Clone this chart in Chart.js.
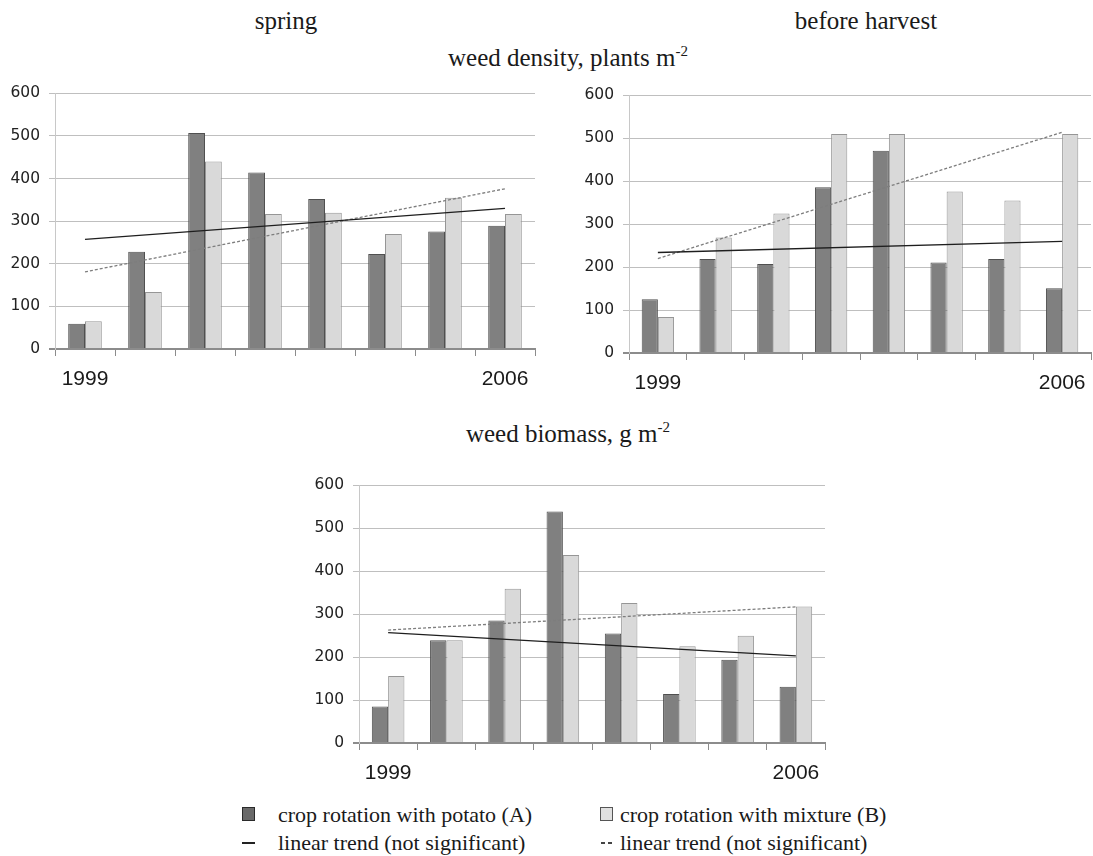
<!DOCTYPE html>
<html>
<head>
<meta charset="utf-8">
<script src="https://cdn.jsdelivr.net/npm/chart.js@4/dist/chart.umd.min.js"></script>
<style>
    body { margin: 0; background: #fff; width: 1093px; height: 856px; position: relative; overflow: hidden;
           font-family: "Liberation Serif", "Times New Roman", serif; color: #1a1a1a; }
    canvas { position: absolute; }
    .title { position: absolute; font-size: 25px; line-height: 1; white-space: nowrap; }
    .center { transform: translateX(-50%); }
    .title sup { font-size: 15px; vertical-align: 10px; line-height: 0; }
    .legend-item { position: absolute; font-size: 22px; line-height: 1; white-space: nowrap; }
    .swatch { position: absolute; width: 11px; height: 12px; }
    .dash { position: absolute; height: 0; border-top: 2px solid #222; }
</style>
</head>
<body>

<div class="title center" style="left:286px; top:8px;">spring</div>
<div class="title center" style="left:866px; top:8px;">before harvest</div>
<div class="title center" style="left:568px; top:45px;">weed density, plants m<sup>-2</sup></div>
<div class="title center" style="left:568px; top:421px;">weed biomass, g m<sup>-2</sup></div>

<canvas id="spring-chart" width="545" height="319" style="left:0px; top:75px;"></canvas>
<canvas id="harvest-chart" width="527" height="321" style="left:574px; top:77px;"></canvas>
<canvas id="biomass-chart" width="531" height="321" style="left:304px; top:467px;"></canvas>

<div class="swatch" style="left:242px; top:807px; background:#696969; border:1px solid #2a2a2a;"></div>
<div class="legend-item" style="left:278px; top:804px;">crop rotation with potato (A)</div>
<div class="swatch" style="left:600px; top:807px; background:#e0e0e0; border:1px solid #555;"></div>
<div class="legend-item" style="left:620px; top:804px;">crop rotation with mixture (B)</div>
<div class="dash" style="left:242px; top:842px; width:13px;"></div>
<div class="legend-item" style="left:278px; top:832px;">linear trend (not significant)</div>
<div class="dash" style="left:601px; top:842px; width:4px; border-color:#444;"></div>
<div class="dash" style="left:608px; top:842px; width:4px; border-color:#444;"></div>
<div class="legend-item" style="left:620px; top:832px;">linear trend (not significant)</div>

<script>
const years = ['1999', '', '', '', '', '', '', '2006'];
const yTicks = [0, 100, 200, 300, 400, 500, 600];

// weed density in spring, plants m-2
const springA = [59, 228, 507, 414, 352, 223, 276, 289];
const springB = [65, 134, 440, 317, 320, 270, 355, 317];
const springTrendA = [257, 330];   // first and last year
const springTrendB = [181, 376];

// weed density before harvest, plants m-2
const harvestA = [125, 219, 207, 386, 471, 211, 219, 151];
const harvestB = [84, 269, 325, 510, 510, 376, 355, 510];
const harvestTrendA = [234, 260];
const harvestTrendB = [220, 514];

// weed biomass, g m-2
const biomassA = [85, 239, 285, 539, 255, 114, 194, 131];
const biomassB = [156, 239, 359, 438, 326, 225, 250, 318];
const biomassTrendA = [257, 203];
const biomassTrendB = [263, 317];

// trend is only known at its two ends, the line spans the gap
function trendToSeries(ends) {
    const series = years.map(() => null);
    series[0] = ends[0];
    series[series.length - 1] = ends[1];
    return series;
}

function plotWeedChart(canvasId, valuesA, valuesB, trendA, trendB) {
    const ctx = document.getElementById(canvasId).getContext('2d');

    return new Chart(ctx, {
        type: 'bar',
        data: {
            labels: years,
            datasets: [{
                type: 'line',
                label: 'linear trend A',
                data: trendToSeries(trendA),
                borderColor: '#1e1e1e',
                borderWidth: 1.3,
                pointRadius: 0,
                spanGaps: true,
                order: 0,
            }, {
                type: 'line',
                label: 'linear trend B',
                data: trendToSeries(trendB),
                borderColor: '#7d7d7d',
                borderWidth: 1.3,
                borderDash: [3, 2],
                pointRadius: 0,
                spanGaps: true,
                order: 0,
            }, {
                label: 'crop rotation with potato (A)',
                data: valuesA,
                backgroundColor: '#808080',
                borderColor: '#505050',
                borderWidth: 1,
                barPercentage: 1,
                categoryPercentage: 0.56,
                order: 1,
            }, {
                label: 'crop rotation with mixture (B)',
                data: valuesB,
                backgroundColor: '#d9d9d9',
                borderColor: '#969696',
                borderWidth: 1,
                barPercentage: 1,
                categoryPercentage: 0.56,
                order: 1,
            }]
        },
        options: {
            animation: false,
            responsive: false,
            layout: { padding: { top: 10, right: 10, bottom: 0, left: 0 } },
            plugins: {
                legend: { display: false },
                tooltip: { enabled: false }
            },
            scales: {
                x: {
                    offset: true,
                    grid: {
                        display: true,
                        offset: true,
                        drawOnChartArea: false,
                        drawTicks: true,
                        tickLength: 7,
                        color: '#8c8c8c',
                    },
                    border: { display: true, color: '#8c8c8c', width: 2 },
                    ticks: {
                        color: '#1a1a1a',
                        font: { family: 'Liberation Sans', size: 21 },
                        padding: 11,
                        maxRotation: 0,
                        autoSkip: false,
                    },
                    afterFit: scale => { scale.height = 45; }
                },
                y: {
                    min: 0,
                    max: 600,
                    afterBuildTicks: scale => { scale.ticks = yTicks.map(v => ({ value: v })); },
                    grid: {
                        color: c => (c.tick && c.tick.value === 0) ? '#8c8c8c' : '#bfbfbf',
                        lineWidth: c => (c.tick && c.tick.value === 0) ? 2 : 1,
                        tickLength: 6,
                    },
                    border: { display: true, color: '#c8c8c8', width: 1 },
                    ticks: {
                        color: '#222',
                        font: { family: 'DejaVu Sans', size: 15.5 },
                        padding: 9,
                    },
                    afterFit: scale => { scale.width = 55; }
                }
            }
        }
    });
}

plotWeedChart('spring-chart', springA, springB, springTrendA, springTrendB);
plotWeedChart('harvest-chart', harvestA, harvestB, harvestTrendA, harvestTrendB);
plotWeedChart('biomass-chart', biomassA, biomassB, biomassTrendA, biomassTrendB);
</script>
</body>
</html>
